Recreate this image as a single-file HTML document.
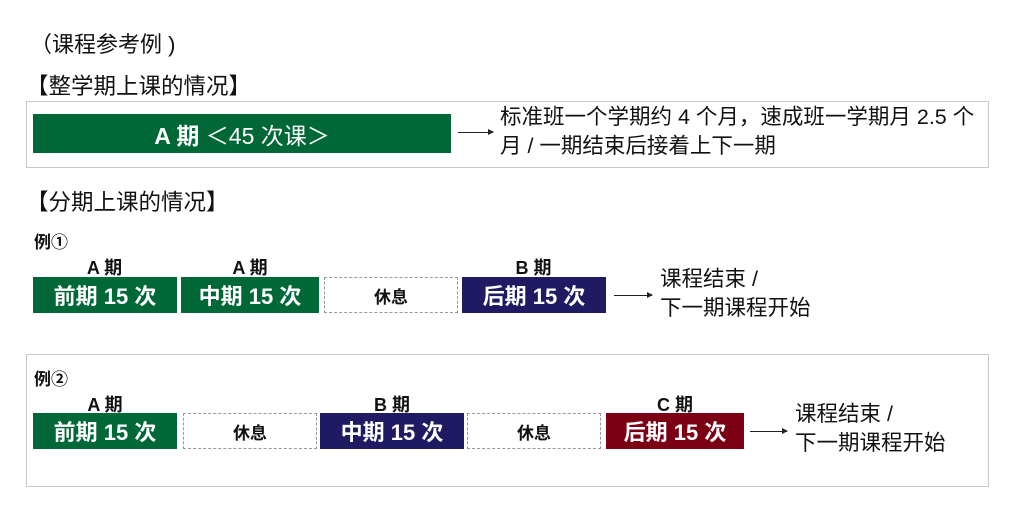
<!DOCTYPE html>
<html><head><meta charset="utf-8"><style>
body{margin:0;width:1024px;height:512px;background:#fff;position:relative;overflow:hidden;font-family:"Liberation Sans","Noto Sans CJK SC",sans-serif;color:#111}
.a{position:absolute;white-space:nowrap}
.b{position:absolute;color:#fff;font-weight:bold;font-size:22px;display:flex;align-items:center;justify-content:center;box-sizing:border-box;white-space:nowrap}
.g{background:#006837}.n{background:#201a63}.m{background:#7b0013}
.d{position:absolute;border:1.5px dashed #999;box-sizing:border-box;display:flex;align-items:center;justify-content:center;font-size:17px;font-weight:bold;color:#111}
.l{position:absolute;font-size:18px;font-weight:bold;text-align:center}
.frame{position:absolute;border:1px solid #c8c8c8}
.arr{position:absolute;height:1px;background:#222}
.arr:after{content:"";position:absolute;right:-1px;top:-3px;border-left:6px solid #222;border-top:3.5px solid transparent;border-bottom:3.5px solid transparent}
.t{position:absolute;font-size:21.5px;line-height:29px;white-space:nowrap}
</style></head><body>
<div class="a" style="left:30px;top:27px;font-size:22px">（课程参考例 )</div>
<div class="a" style="left:26px;top:69px;font-size:22.5px">【整学期上课的情况】</div>
<div class="frame" style="left:26px;top:101px;width:961px;height:65px"></div>
<div class="b g" style="left:33px;top:114px;width:418px;height:39px;font-size:23px;font-weight:normal"><b>A 期</b>&nbsp;＜45 次课＞</div>
<div class="arr" style="left:458px;top:132px;width:35px"></div>
<div class="t" style="left:500px;top:103px">标准班一个学期约 4 个月，速成班一学期月 2.5 个<br>月 / 一期结束后接着上下一期</div>
<div class="a" style="left:26px;top:185px;font-size:22.5px">【分期上课的情况】</div>
<div class="a" style="left:34px;top:228px;font-size:17px;font-weight:bold">例①</div>
<div class="l" style="left:33px;top:254px;width:143px">A 期</div>
<div class="l" style="left:181px;top:254px;width:138px">A 期</div>
<div class="l" style="left:462px;top:254px;width:143px">B 期</div>
<div class="b g" style="left:33px;top:277px;width:144px;height:36px">前期 15 次</div>
<div class="b g" style="left:181px;top:277px;width:138px;height:36px">中期 15 次</div>
<div class="d" style="left:324px;top:277px;width:134px;height:36px">休息</div>
<div class="b n" style="left:462px;top:277px;width:144px;height:36px">后期 15 次</div>
<div class="arr" style="left:614px;top:295px;width:38px"></div>
<div class="t" style="left:660px;top:265px">课程结束 /<br>下一期课程开始</div>
<div class="frame" style="left:26px;top:354px;width:961px;height:131px"></div>
<div class="a" style="left:34px;top:365px;font-size:17px;font-weight:bold">例②</div>
<div class="l" style="left:33px;top:391px;width:144px">A 期</div>
<div class="l" style="left:320px;top:391px;width:144px">B 期</div>
<div class="l" style="left:606px;top:391px;width:138px">C 期</div>
<div class="b g" style="left:33px;top:413px;width:144px;height:36px">前期 15 次</div>
<div class="d" style="left:183px;top:413px;width:134px;height:36px">休息</div>
<div class="b n" style="left:320px;top:413px;width:144px;height:36px">中期 15 次</div>
<div class="d" style="left:467px;top:413px;width:134px;height:36px">休息</div>
<div class="b m" style="left:606px;top:413px;width:138px;height:36px">后期 15 次</div>
<div class="arr" style="left:750px;top:431px;width:37px"></div>
<div class="t" style="left:795px;top:400px">课程结束 /<br>下一期课程开始</div>
</body></html>
